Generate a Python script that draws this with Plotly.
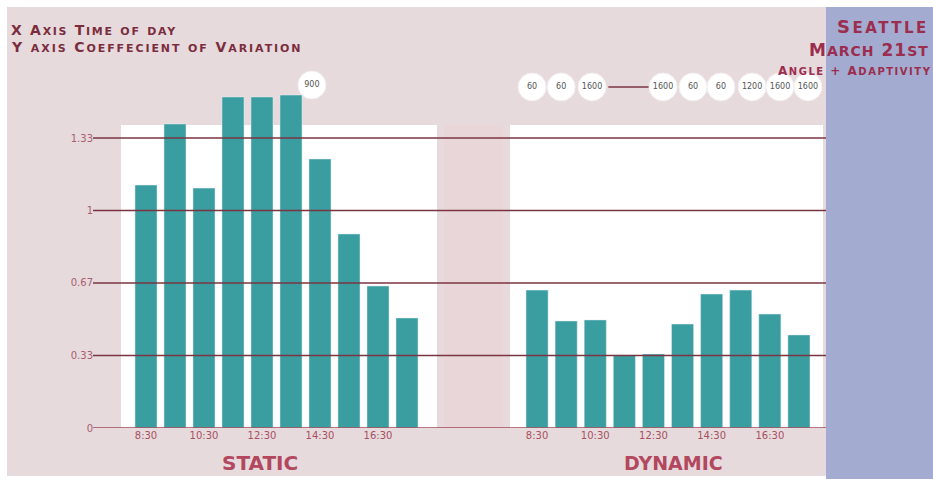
import plotly.graph_objects as go

# ---------------- data ----------------
times = ["8:30", "9:30", "10:30", "11:30", "12:30", "13:30", "14:30", "15:30", "16:30", "17:30"]
tick_times = ["8:30", "10:30", "12:30", "14:30", "16:30"]
static_cv = [1.117, 1.398, 1.103, 1.522, 1.522, 1.531, 1.237, 0.892, 0.653, 0.506]
dynamic_cv = [0.634, 0.492, 0.497, 0.336, 0.340, 0.478, 0.616, 0.634, 0.524, 0.428]
y_tickvals = [0, 0.3333, 0.6667, 1.0, 1.3333]
y_ticktext = ["0", "0.33", "0.67", "1", "1.33"]

static_bubble_x = [5.72]
static_bubble_y = [1.577]
static_bubble_text = ["900"]
dyn_bubble_x = [-0.17, 0.83, 1.89, 4.33, 5.36, 6.32, 7.39, 8.35, 9.31]
dyn_bubble_y = [1.568] * 9
dyn_bubble_text = ["60", "60", "1600", "1600", "60", "60", "1200", "1600", "1600"]
dyn_link_x = [2.45, 3.85]
dyn_link_y = [1.568, 1.568]

# ---------------- style ----------------
W, H = 933, 479
BG = "#e6dadd"
TEAL = "#3a9ea0"
LINE = "#7a3442"
TXT = "#7b2d3d"
RED = "#b2475d"

def px_x(p):
    return p / W

def px_y(p):
    return 1 - p / H

def sc(text, big, small, spacing=0):
    out = []
    for ch in text:
        if ch.islower():
            out.append(f"<span style='font-size:{small}px;letter-spacing:{spacing}px'>{ch.upper()}</span>")
        else:
            out.append(f"<span style='letter-spacing:{spacing}px'>{ch}</span>")
    return "".join(out)

Y0 = 428.0
SCALE = 217.5
yrange = [0, Y0 / SCALE]
ydom = [(H - Y0) / H, 1]

fig = go.Figure()
fig.add_trace(go.Bar(x=times, y=static_cv, marker_color=TEAL, width=0.76,
                     xaxis="x", yaxis="y", showlegend=False))
fig.add_trace(go.Bar(x=times, y=dynamic_cv, marker_color=TEAL, width=0.76,
                     xaxis="x2", yaxis="y", showlegend=False))

bubble_marker = dict(size=28, color="white", line=dict(color="#f4eef0", width=1))
fig.add_trace(go.Scatter(x=dyn_link_x, y=dyn_link_y, mode="lines",
                         line=dict(color=LINE, width=1.5), xaxis="x3", yaxis="y",
                         showlegend=False, cliponaxis=False, hoverinfo="skip"))
fig.add_trace(go.Scatter(x=static_bubble_x, y=static_bubble_y, mode="markers+text",
                         text=static_bubble_text, textposition="middle center",
                         textfont=dict(size=8, color="#555", family="DejaVu Sans"),
                         marker=bubble_marker, xaxis="x4", yaxis="y",
                         showlegend=False, cliponaxis=False))
fig.add_trace(go.Scatter(x=dyn_bubble_x, y=dyn_bubble_y, mode="markers+text",
                         text=dyn_bubble_text, textposition="middle center",
                         textfont=dict(size=8, color="#555", family="DejaVu Sans"),
                         marker=bubble_marker, xaxis="x3", yaxis="y",
                         showlegend=False, cliponaxis=False))

shapes = []
shapes.append(dict(type="rect", xref="paper", yref="paper", x0=px_x(7), x1=1,
                   y0=px_y(476), y1=px_y(7), fillcolor=BG, line_width=0, layer="below"))
shapes.append(dict(type="rect", xref="paper", yref="paper", x0=px_x(826), x1=1,
                   y0=0, y1=px_y(7), fillcolor="#a3acd0", line_width=0, layer="below"))
top_v = (Y0 - 125) / SCALE
shapes.append(dict(type="rect", xref="paper", yref="y", x0=px_x(121), x1=px_x(437),
                   y0=0, y1=top_v, fillcolor="white", line_width=0, layer="below"))
shapes.append(dict(type="rect", xref="paper", yref="y", x0=px_x(510), x1=px_x(823),
                   y0=0, y1=top_v, fillcolor="white", line_width=0, layer="below"))
shapes.append(dict(type="rect", xref="paper", yref="y", x0=px_x(444), x1=px_x(503),
                   y0=0, y1=top_v, fillcolor="#e9d6d8", line_width=0, layer="below"))
for v in y_tickvals:
    shapes.append(dict(type="line", xref="paper", yref="y", x0=px_x(93), x1=px_x(826),
                       y0=v, y1=v, line=dict(color=LINE if v > 0 else "#a04858", width=1.5),
                       layer="above"))

annotations = []
hdr_font = dict(size=14, color=TXT, family="DejaVu Sans")
annotations.append(dict(text="<b>" + sc("X Axis Time of day", 14, 11, 1.7) + "</b>", xref="paper",
                        yref="paper", x=px_x(9), y=px_y(30), xanchor="left", yanchor="middle",
                        showarrow=False, font=hdr_font))
annotations.append(dict(text="<b>" + sc("Y axis Coeffecient of Variation", 14, 11, 1.9) + "</b>",
                        xref="paper", yref="paper", x=px_x(9), y=px_y(47), xanchor="left",
                        yanchor="middle", showarrow=False, font=hdr_font))
annotations.append(dict(text="<b>" + sc("Seattle", 18, 15, 2.5) + "</b>", xref="paper", yref="paper",
                        x=px_x(931), y=px_y(26), xanchor="right", yanchor="middle",
                        showarrow=False, font=dict(size=18, color="#9b2d4f", family="DejaVu Sans")))
annotations.append(dict(text="<b>" + sc("March 21st", 17, 14, 1.0) + "</b>", xref="paper", yref="paper",
                        x=px_x(931), y=px_y(50), xanchor="right", yanchor="middle",
                        showarrow=False, font=dict(size=17, color="#9b2d4f", family="DejaVu Sans")))
annotations.append(dict(text="<b>" + sc("Angle + Adaptivity", 12, 10, 1.5) + "</b>", xref="paper",
                        yref="paper", x=px_x(933), y=px_y(71), xanchor="right", yanchor="middle",
                        showarrow=False, font=dict(size=12, color="#9b2d4f", family="DejaVu Sans")))
annotations.append(dict(text="<b>STATIC</b>", xref="paper", yref="paper", x=px_x(260), y=px_y(463),
                        xanchor="center", yanchor="middle", showarrow=False,
                        font=dict(size=20, color=RED, family="DejaVu Sans")))
annotations.append(dict(text="<b>DYNAMIC</b>", xref="paper", yref="paper", x=px_x(673), y=px_y(463),
                        xanchor="center", yanchor="middle", showarrow=False,
                        font=dict(size=19, color=RED, family="DejaVu Sans")))

xcommon = dict(type="category", tickmode="array", tickvals=tick_times, ticktext=tick_times,
               showgrid=False, zeroline=False, showline=False, ticks="", automargin=False,
               tickfont=dict(size=10, color="#a85060", family="DejaVu Sans"), anchor="y",
               range=[-0.5, 9.5], fixedrange=True)
d1 = [px_x(131.5), px_x(421.5)]
d2 = [px_x(522.5), px_x(813.5)]

fig.update_layout(
    width=W, height=H, margin=dict(l=0, r=0, t=0, b=0, pad=0, autoexpand=False),
    paper_bgcolor="white", plot_bgcolor="rgba(0,0,0,0)",
    xaxis=dict(domain=d1, **xcommon),
    xaxis2=dict(domain=d2, **xcommon),
    xaxis3=dict(domain=d2, type="linear", range=[-0.5, 9.5], overlaying="x2", anchor="y",
                visible=False, automargin=False),
    xaxis4=dict(domain=d1, type="linear", range=[-0.5, 9.5], overlaying="x", anchor="y",
                visible=False, automargin=False),
    yaxis=dict(domain=ydom, range=yrange, anchor="free", position=px_x(93), automargin=False,
               tickmode="array", tickvals=y_tickvals, ticktext=y_ticktext,
               showgrid=False, zeroline=False, showline=False, ticks="",
               tickfont=dict(size=10, color="#a86070", family="DejaVu Sans")),
    shapes=shapes, annotations=annotations,
)

post = "document.body.style.margin='0px';document.body.style.overflow='hidden';"
fig.write_html("out.html", post_script=post, config={"displayModeBar": False})
